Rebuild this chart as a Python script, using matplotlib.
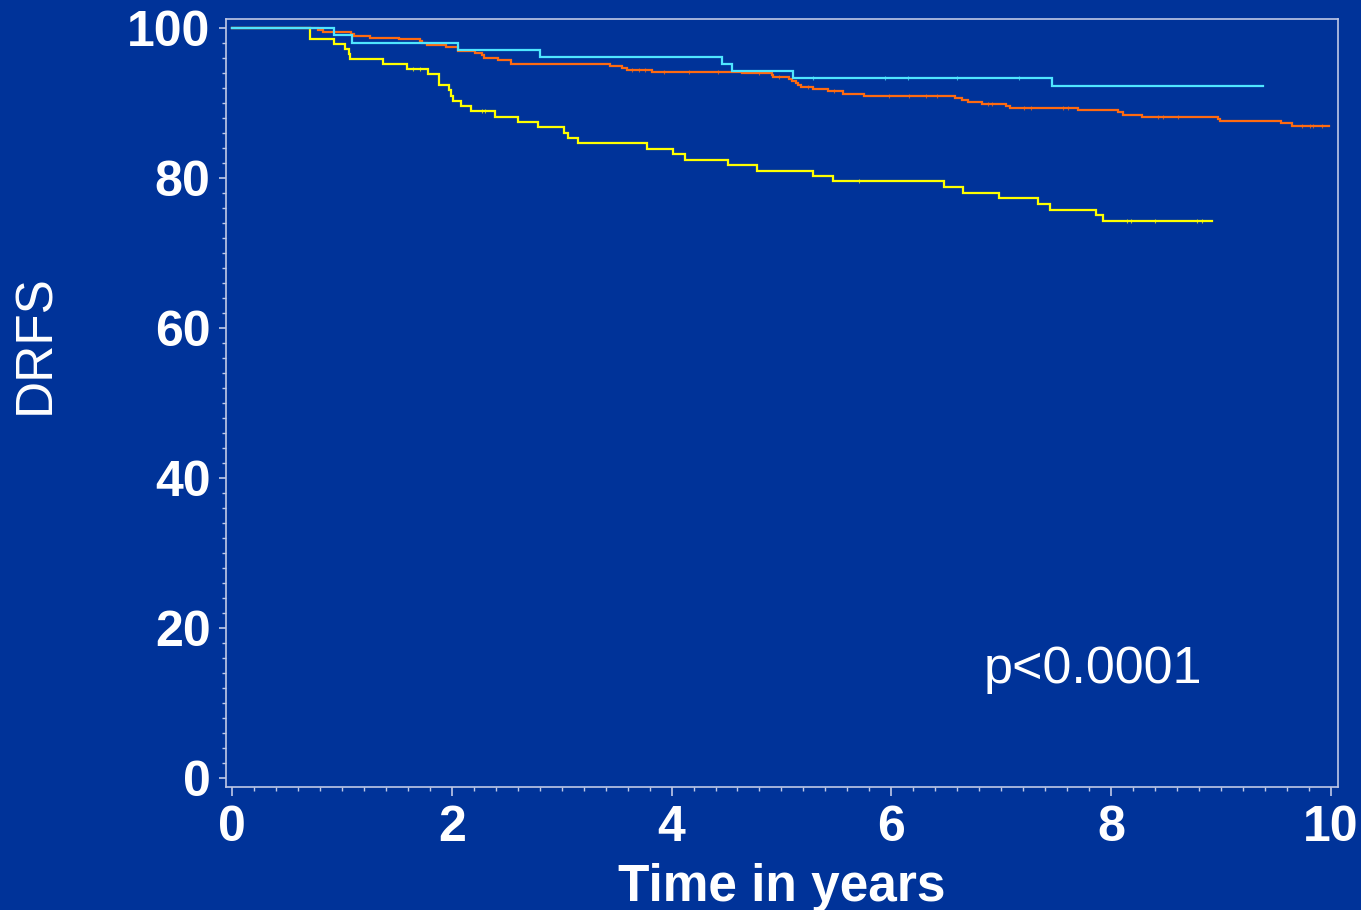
import matplotlib
matplotlib.use("Agg")
import matplotlib.pyplot as plt
import numpy as np
from matplotlib.ticker import MultipleLocator

# ---- data ----
cyan_t = [0, 0.93, 1.087, 2.06, 2.80, 4.455, 4.55, 5.11, 7.46, 9.386]
cyan_s = [100, 99.07, 98.09, 97.15, 96.18, 95.29, 94.31, 93.33, 92.31, 92.31]
cyan_cens = [5.29, 5.94, 6.15, 6.60, 7.16]

orange_t = [0, 0.78, 0.83, 1.08, 1.11, 1.254, 1.52, 1.71, 1.73, 1.77, 1.944,
            2.057, 2.21, 2.27, 2.29, 2.42, 2.537, 3.443, 3.55, 3.59, 3.82,
            4.64, 4.91, 4.92, 5.07, 5.10, 5.13, 5.155, 5.175, 5.285, 5.425,
            5.56, 5.75, 6.58, 6.64, 6.70, 6.83, 7.045, 7.08, 7.70, 8.06,
            8.11, 8.28, 8.976, 8.99, 9.544, 9.65, 9.985]
orange_s = [100, 99.73, 99.51, 99.24, 99.02, 98.76, 98.53, 98.31, 98.0, 97.78, 97.51,
            97.02, 96.76, 96.5, 96.0, 95.73, 95.29, 94.98, 94.71, 94.44, 94.22,
            94.0, 93.73, 93.47, 93.2, 92.93, 92.67, 92.4, 92.13, 91.87, 91.6,
            91.29, 91.02, 90.76, 90.49, 90.22, 89.93, 89.64, 89.38, 89.11, 88.8,
            88.49, 88.22, 87.96, 87.69, 87.38, 87.02, 87.02]
orange_cens = [3.64, 3.70, 3.76, 3.93, 4.16, 4.42, 4.80, 4.98, 5.24, 5.48,
               5.98, 6.16, 6.32, 6.42, 6.88, 6.92, 7.21, 7.27, 7.56, 7.61,
               8.43, 8.47, 8.61, 9.74, 9.81, 9.84, 9.92]

yellow_t = [0, 0.71, 0.93, 1.03, 1.063, 1.07, 1.37, 1.59, 1.786, 1.88, 1.977,
            1.99, 2.008, 2.087, 2.172, 2.397, 2.604, 2.78, 3.017, 3.06, 3.148,
            3.777, 4.015, 4.124, 4.51, 4.78, 5.285, 5.467, 6.477, 6.653, 6.984,
            7.337, 7.446, 7.863, 7.93, 8.915]
yellow_s = [100, 98.58, 97.91, 97.24, 96.58, 95.87, 95.24, 94.53, 93.87, 92.44, 91.73,
            91.02, 90.36, 89.64, 88.98, 88.22, 87.51, 86.8, 86.09, 85.38, 84.67,
            83.96, 83.24, 82.49, 81.78, 81.02, 80.31, 79.6, 78.84, 78.09, 77.36,
            76.58, 75.82, 75.07, 74.31, 74.31]
yellow_cens = [1.65, 1.71, 2.27, 2.30, 5.71, 8.15, 8.18, 8.40, 8.78, 8.83]

x_ticks = [0, 2, 4, 6, 8, 10]
y_ticks = [0, 20, 40, 60, 80, 100]
p_text = "p<0.0001"

BG = "#003399"
SPINE = "#BFC8E6"
C_CYAN = "#4FE6FF"
C_ORANGE = "#FF6A10"
C_YELLOW = "#FFFF00"

plt.rcParams['font.family'] = ['Liberation Sans', 'DejaVu Sans']

fig = plt.figure(figsize=(13.61, 9.10), dpi=100, facecolor=BG)
ax = fig.add_axes([0.1658, 0.1355, 0.8171, 0.8436], facecolor=BG)


def step_at(ts, ss, x):
    idx = np.searchsorted(np.asarray(ts), x, side='right') - 1
    return np.asarray(ss)[idx]


for ts, ss, cens, col in [(yellow_t, yellow_s, yellow_cens, C_YELLOW),
                          (orange_t, orange_s, orange_cens, C_ORANGE),
                          (cyan_t, cyan_s, cyan_cens, C_CYAN)]:
    ax.plot(ts, ss, drawstyle='steps-post', color=col, lw=1.6, solid_joinstyle='miter')
    ax.plot(cens, step_at(ts, ss, cens), ls='none', marker='|', ms=3, mew=0.8,
            color=col, alpha=0.7)

ax.set_xlim(-0.059, 10.064)
ax.set_ylim(-1.16, 101.24)

for s in ax.spines.values():
    s.set_color(SPINE)
    s.set_linewidth(1.2)

ax.set_xticks(x_ticks)
ax.set_yticks(y_ticks)
ax.xaxis.set_minor_locator(MultipleLocator(0.2))
ax.yaxis.set_minor_locator(MultipleLocator(2))
ax.tick_params(axis='both', which='major', colors=SPINE, width=1.2,
               labelcolor='white', labelsize=36, direction='out')
ax.tick_params(axis='both', which='minor', colors=SPINE, length=2.8, width=1.0,
               direction='out')
ax.tick_params(axis='x', which='major', length=6.5, pad=7)
ax.tick_params(axis='y', which='major', length=5, pad=6)
for lab in ax.get_xticklabels() + ax.get_yticklabels():
    lab.set_fontweight('bold')

ax.set_xlabel("Time in years", color='white', fontsize=37, fontweight='bold', labelpad=8)
ax.set_ylabel("DRFS", color='white', fontsize=37)
ax.yaxis.set_label_coords(-0.149, 0.577)

ax.text(6.84, 12.7, p_text, color='white', fontsize=37.5, ha='left', va='baseline')

fig.savefig("out.png", dpi=100, facecolor=BG)
